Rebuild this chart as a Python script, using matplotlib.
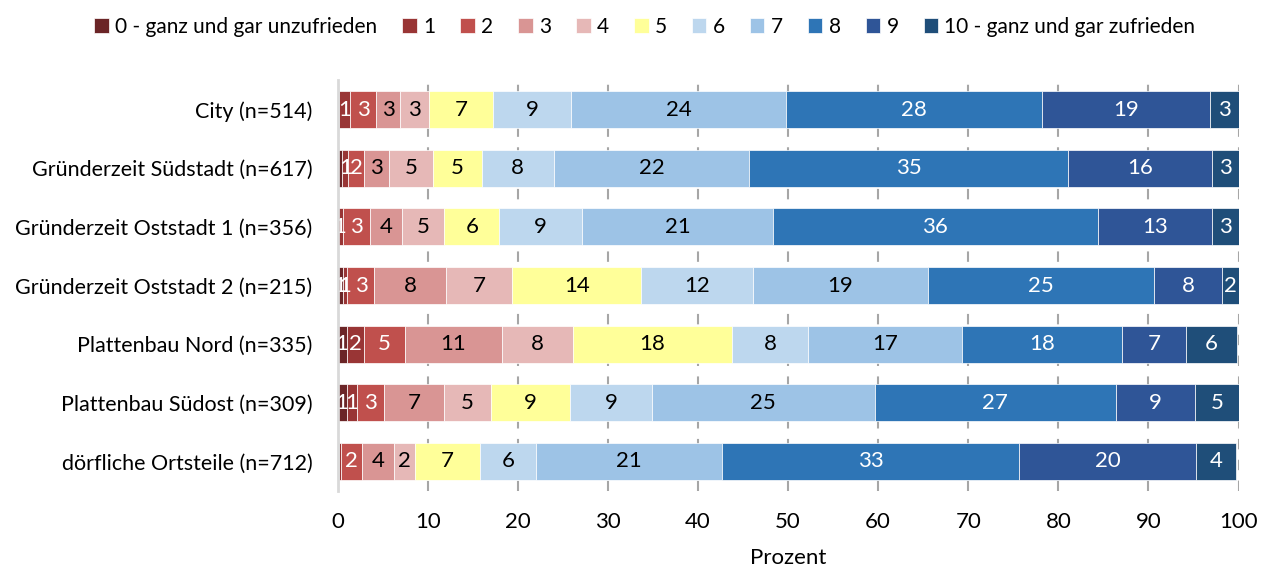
import matplotlib.pyplot as plt
import numpy as np

plt.rcParams["font.family"] = ["Lato", "DejaVu Sans"]

areas = [
    "City (n=514)",
    "Gründerzeit Südstadt (n=617)",
    "Gründerzeit Oststadt 1 (n=356)",
    "Gründerzeit Oststadt 2 (n=215)",
    "Plattenbau Nord (n=335)",
    "Plattenbau Südost (n=309)",
    "dörfliche Ortsteile (n=712)",
]
categories = ["0 - ganz und gar unzufrieden", "1", "2", "3", "4", "5", "6", "7", "8", "9",
              "10 - ganz und gar zufrieden"]

# percent per category (0..10) for each area
city = [0.2, 1.2, 2.9, 2.6, 3.2, 7.2, 8.6, 23.9, 28.4, 18.6, 3.2]
suedstadt = [0.5, 0.7, 1.7, 2.8, 4.9, 5.4, 8.0, 21.7, 35.4, 15.9, 3.1]
oststadt1 = [0.0, 0.55, 3.0, 3.6, 4.7, 6.1, 9.2, 21.2, 36.0, 12.7, 3.0]
oststadt2 = [0.55, 0.55, 3.0, 7.9, 7.4, 14.3, 12.4, 19.4, 25.1, 7.6, 1.9]
platte_nord = [1.0, 1.9, 4.6, 10.7, 7.9, 17.7, 8.4, 17.1, 17.8, 7.1, 5.6]
platte_suedost = [1.0, 1.2, 3.0, 6.6, 5.2, 8.8, 9.1, 24.7, 26.8, 8.8, 4.9]
doerflich = [0.2, 0.2, 2.3, 3.6, 2.3, 7.2, 6.2, 20.7, 32.9, 19.7, 4.4]

data = np.array([city, suedstadt, oststadt1, oststadt2, platte_nord, platte_suedost, doerflich])

colors = ["#6b2527", "#993535", "#c0504d", "#d99594", "#e6b8b7", "#ffff99",
          "#bdd7ee", "#9dc3e6", "#2e75b6", "#2f5597", "#1f4e79"]
text_colors = ["white", "white", "white", "black", "black", "black",
               "black", "black", "white", "white", "white"]

fig, ax = plt.subplots(figsize=(12.69, 5.74), dpi=100)
fig.subplots_adjust(left=0.266, right=0.976, top=0.86, bottom=0.145)

y = np.arange(len(areas))
left = np.zeros(len(areas))
for j in range(len(categories)):
    vals = data[:, j]
    ax.barh(y, vals, left=left, height=0.63, color=colors[j],
            edgecolor="white", linewidth=0.5, label=categories[j], zorder=3)
    for i, v in enumerate(vals):
        if round(v) >= 1:
            ax.text(left[i] + v / 2, y[i], str(int(round(v))), ha="center", va="center",
                    color=text_colors[j], fontsize=16, zorder=4)
    left += vals

ax.set_xlim(0, 100)
ax.set_ylim(len(areas) - 0.5, -0.5)
ax.set_yticks(y)
ax.set_yticklabels(areas, fontsize=15.5)
ax.set_xticks(range(0, 101, 10))
ax.tick_params(axis="x", labelsize=16, length=0, pad=15)
ax.tick_params(axis="y", length=0, pad=18)
ax.set_xlabel("Prozent", fontsize=16, labelpad=12)

ax.xaxis.grid(True, color="#a6a6a6", linestyle=(0, (5, 5)), linewidth=1.5, zorder=0)
for s in ["top", "right", "bottom"]:
    ax.spines[s].set_visible(False)
ax.spines["left"].set_color("#d9d9d9")
ax.spines["left"].set_linewidth(2)
ax.spines["left"].set_zorder(5)

ax.legend(loc="upper center", bbox_to_anchor=(0.341, 1.2), ncol=11, frameon=False,
          fontsize=15, handlelength=0.7, handleheight=0.7, handletextpad=0.3,
          columnspacing=1.2)

plt.savefig("out.png", dpi=100)
